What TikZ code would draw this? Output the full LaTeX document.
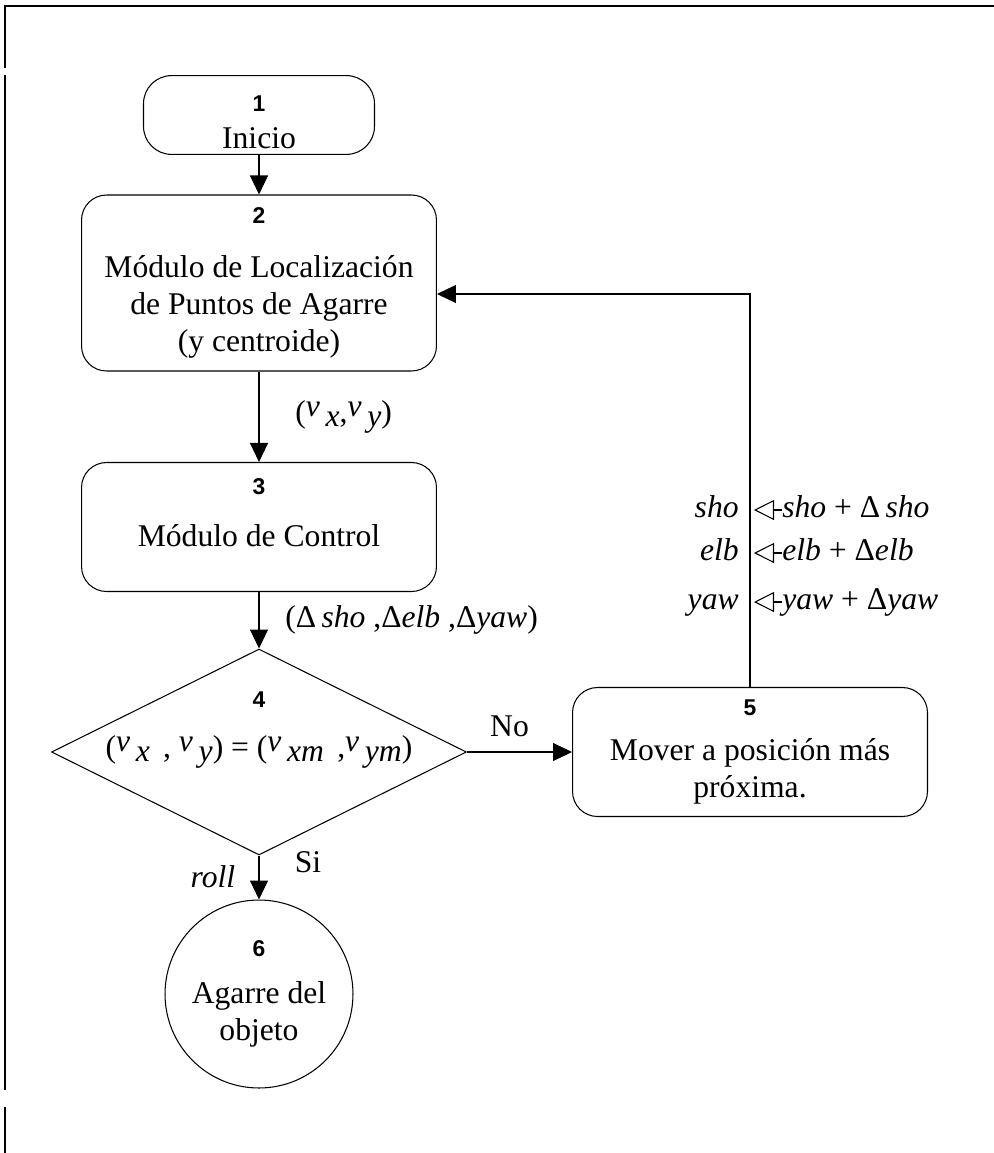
\documentclass[tikz,border=0pt]{standalone}
\usepackage{fontspec}
\setmainfont{Liberation Serif}
\newfontfamily\numfont{Liberation Sans}
\usetikzlibrary{arrows.meta,shapes.geometric,positioning}

\newcommand{\stepno}[1]{{\numfont\bfseries\fontsize{13}{15}\selectfont #1}}
\newcommand{\vel}[1]{\raisebox{0.4ex}{\textit{v}}\hspace{0.18em}\raisebox{-0.25ex}{\textit{#1}}}

\begin{document}
\begin{tikzpicture}[x=0.02cm,y=-0.02cm,
    every node/.style={font=\fontsize{18}{21}\selectfont},
    block/.style={draw,rectangle,rounded corners=0.5cm,minimum width=7.1cm,align=center,line width=0.6pt},
    flow/.style={-{Triangle[length=0.38cm,width=0.36cm]},line width=0.6pt},
    assign/.style={-{Triangle[open,length=0.4cm,width=0.4cm]},line width=0.6pt},
    varname/.style={inner sep=0pt,text height=13pt,text depth=4pt},
    frame/.style={line width=1.5pt}]

\useasboundingbox (0,0) rectangle (994,1153);

% page frame
\draw[frame] (5,68) -- (5,6) -- (994,6);
\draw[frame] (5,75) -- (5,1090);
\draw[frame] (5,1107) -- (5,1153);

% blocks of the flow
\node[block,rounded corners=0.56cm,minimum width=4.62cm,minimum height=1.56cm] (inicio) at (259,115) {\rule{0pt}{17pt}\stepno{1}\\Inicio};
\node[block,minimum height=3.52cm] (local) at (259,283) {\stepno{2}\\[0.35cm]Módulo de Localización\\de Puntos de Agarre\\(y centroide)};
\node[block,minimum height=2.58cm] (control) at (259,527) {\stepno{3}\\[0.3cm]Módulo de Control\\[-5pt]\mbox{}};
\node[draw,diamond,minimum width=8.3cm,minimum height=4.12cm,inner sep=0pt,line width=0.6pt] (check) at (259,752) {};
\node (checkno) at (259,700) {\stepno{4}};
\node (checktxt) at (259,752) {(\vel{x}\, , \vel{y}) = (\vel{xm}\, ,\vel{ym})};
\node[block,minimum height=2.58cm] (mover) at (750,752) {\stepno{5}\\[0.15cm]Mover a posición más\\próxima.};
\node[draw,circle,minimum size=3.76cm,align=center,line width=0.6pt] (agarre) at (259,994) {\stepno{6}\\[0.2cm]Agarre del\\objeto};

% connectors
\draw[flow] (inicio) -- (local);
\draw[flow] (local) -- node[right=0.6cm] {(\vel{x},\vel{y})} (control);
\draw[flow] (control) -- node[right=0.4cm] {(Δ\,\textit{sho} ,Δ\textit{elb} ,Δ\textit{yaw})} (check);
\draw[flow] (check) -- node[above=0.17cm,xshift=-0.2cm] {No} (mover);
\draw[flow] (check) -- (agarre);
\node (si) at (308,862) {Si};
\node (roll) at (213,877) {\textit{roll}};
\draw[flow] (mover.north) |- ([yshift=-0.22cm]local.east);

% joint updates along the return line
\foreach \v/\d/\y in {sho/{Δ\,\textit{sho}}/510, elb/{Δ\textit{elb}}/553, yaw/{Δ\textit{yaw}}/602} {
  \node[varname,anchor=east] (\v-old) at (739,\y) {\textit{\v}};
  \node[varname,anchor=west] (\v-new) at (782,\y) {\textit{\v}~+~\d};
  \coordinate (\v-tip) at (754,\y);
  \draw[assign] (\v-new.west) -- (\v-tip);
}

\end{tikzpicture}
\end{document}
